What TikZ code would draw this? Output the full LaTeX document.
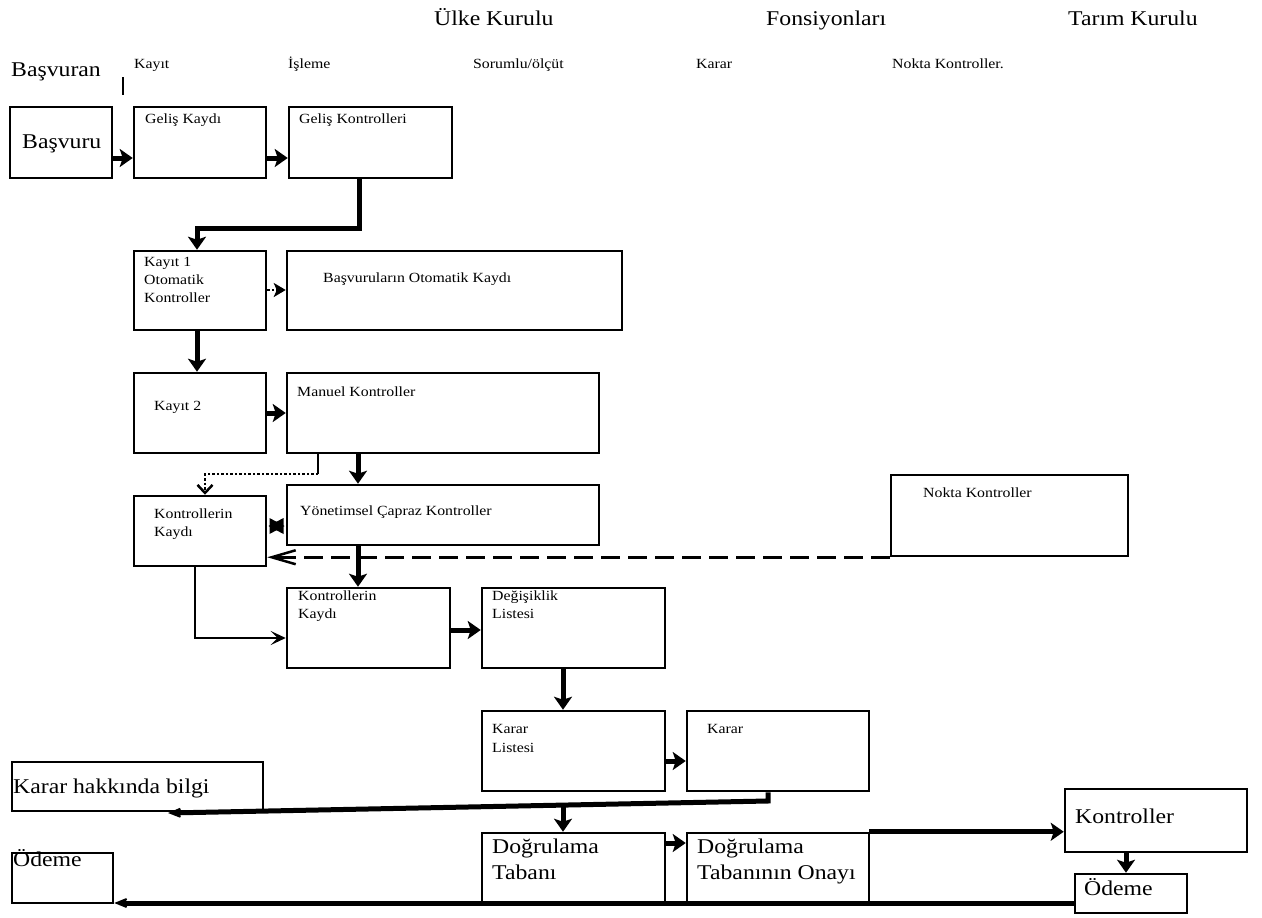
\documentclass[tikz,border=0pt]{standalone}
\usepackage{fontspec}
\setmainfont{Liberation Serif}[FakeStretch=1.13]
\usetikzlibrary{arrows.meta,fit,calc}
\begin{document}
\begin{tikzpicture}[x=1pt,y=-1pt,
  box/.style={draw, line width=2.5pt, inner sep=0pt},
  sm/.style={font=\fontsize{14}{17}\selectfont, anchor=base west, inner sep=0pt},
  bg/.style={font=\fontsize{21}{26}\selectfont, anchor=base west, inner sep=0pt},
  thk/.style={line width=5pt, -{Stealth[length=13pt,width=18pt,inset=3pt]}},
  thkbarb/.style={line width=5pt, -{Stealth[length=22pt,width=18pt,inset=14pt]}},
  thinarr/.style={line width=2pt, -{Stealth[length=15pt,width=14pt,inset=7pt]}},
  dotarr/.style={line width=2.5pt, dash pattern=on 2.5pt off 2pt, -{Stealth[length=12pt,width=14pt,inset=3pt]}},
  dotbarb/.style={line width=2.5pt, dash pattern=on 2.5pt off 2pt, -{Straight Barb[length=8pt,width=15pt,line width=2.5pt]}},
  dasharr/.style={line width=2.5pt, dash pattern=on 19pt off 8pt, -{Straight Barb[length=24pt,width=14pt,line width=2.5pt]}}
]
\fill[white] (0,0) rectangle (1262,918);
\useasboundingbox (0,0) rectangle (1262,918);

% headers
\node[bg] (h1) at (434,25) {Ülke Kurulu};
\node[bg] (h2) at (766,25) {Fonsiyonları};
\node[bg] (h3) at (1068,25) {Tarım Kurulu};
\node[bg] (h4) at (11,76) {Başvuran};
\node[sm] (c1) at (134,68) {Kayıt};
\node[sm] (c2) at (288,68) {İşleme};
\node[sm] (c3) at (473,68) {Sorumlu/ölçüt};
\node[sm] (c4) at (696,68) {Karar};
\node[sm] (c5) at (892,68) {Nokta Kontroller.};
\coordinate (tk1) at (123,77);
\coordinate (tk2) at (123,95);
\draw[line width=2.5pt] (tk1) -- (tk2);

% boxes
\node[box, fit={(10,107)(112,178)}] (basvuru) {};
\node[bg] (basvuru-t) at (22,148) {Başvuru};
\node[box, fit={(134,107)(266,178)}] (gk) {};
\node[sm] (gk-t) at (145,123) {Geliş Kaydı};
\node[box, fit={(289,107)(452,178)}] (gkon) {};
\node[sm] (gkon-t) at (299,123) {Geliş Kontrolleri};

\node[box, fit={(134,251)(266,330)}] (k1) {};
\node[sm] (k1-a) at (144,266) {Kayıt 1};
\node[sm] (k1-b) at (144,284) {Otomatik};
\node[sm] (k1-c) at (144,302) {Kontroller};
\node[box, fit={(287,251)(622,330)}] (bok) {};
\node[sm] (bok-t) at (323,282) {Başvuruların Otomatik Kaydı};

\node[box, fit={(134,373)(266,453)}] (k2) {};
\node[sm] (k2-t) at (154,410) {Kayıt 2};
\node[box, fit={(287,373)(599,453)}] (man) {};
\node[sm] (man-t) at (297,396) {Manuel Kontroller};

\node[box, fit={(134,496)(266,566)}] (kk1) {};
\node[sm] (kk1-a) at (154,518) {Kontrollerin};
\node[sm] (kk1-b) at (154,536) {Kaydı};
\node[box, fit={(287,485)(599,545)}] (yon) {};
\node[sm] (yon-t) at (300,515) {Yönetimsel Çapraz Kontroller};
\node[box, fit={(891,475)(1128,556)}] (nokta) {};
\node[sm] (nokta-t) at (923,497) {Nokta Kontroller};

\node[box, fit={(287,588)(450,668)}] (kk2) {};
\node[sm] (kk2-a) at (298,600) {Kontrollerin};
\node[sm] (kk2-b) at (298,618) {Kaydı};
\node[box, fit={(482,588)(665,668)}] (deg) {};
\node[sm] (deg-a) at (492,600) {Değişiklik};
\node[sm] (deg-b) at (492,618) {Listesi};

\node[box, fit={(482,711)(665,791)}] (kl) {};
\node[sm] (kl-a) at (492,733) {Karar};
\node[sm] (kl-b) at (492,752) {Listesi};
\node[box, fit={(687,711)(869,791)}] (karar) {};
\node[sm] (karar-t) at (707,733) {Karar};

\node[box, fit={(12,762)(263,811)}] (khb) {};
\node[bg] (khb-t) at (13,793) {Karar hakkında bilgi};

\node[box, fit={(482,833)(665,902)}] (dt) {};
\node[bg] (dt-a) at (492,853) {Doğrulama};
\node[bg] (dt-b) at (492,879) {Tabanı};
\node[box, fit={(687,833)(869,902)}] (dto) {};
\node[bg] (dto-a) at (697,853) {Doğrulama};
\node[bg] (dto-b) at (697,879) {Tabanının Onayı};

\node[box, fit={(1065,789)(1247,852)}] (kon) {};
\node[bg] (kon-t) at (1075,823) {Kontroller};
\node[box, fit={(1075,874)(1187,913)}] (odr) {};
\node[bg] (odr-t) at (1084,895) {Ödeme};
\node[box, fit={(12,853)(113,903)}] (odl) {};
\node[bg] (odl-t) at (13,866) {Ödeme};

% connectors
\draw[thk] (basvuru.east |- 0,158) -- (gk.west |- 0,158);
\draw[thk] (gk.east |- 0,158) -- (gkon.west |- 0,158);
\draw[thk] (gkon.south -| 359,0) -- (359,228) -- (197,228) -- (k1.north -| 197,0);
\draw[dotarr] (k1.east |- 0,290) -- (bok.west |- 0,290);
\draw[thk] (k1.south -| 197,0) -- (k2.north -| 197,0);
\draw[thk] (k2.east |- 0,413) -- (man.west |- 0,413);
\draw[thk] (man.south -| 358,0) -- (yon.north -| 358,0);
\draw[line width=2.5pt] (man.south -| 318,0) -- (318,474);
\draw[dotbarb] (318,474) -- (205,474) -- (kk1.north -| 205,0);
% star between yon and kk1
\coordinate (st) at ($(kk1.east |- 0,526)!0.5!(yon.west |- 0,526)$);
\fill ($(st)+(-8,0)$) -- ($(st)+(7,-8)$) -- ($(st)+(7,8)$) -- cycle;
\fill ($(st)+(8,0)$) -- ($(st)+(-7,-8)$) -- ($(st)+(-7,8)$) -- cycle;
\draw[dasharr] (nokta.south west) -- (kk1.east |- nokta.south west);
\draw[thk] (yon.south -| 358,0) -- (kk2.north -| 358,0);
\draw[thinarr] (kk1.south -| 195,0) -- (195,638) -- (kk2.west |- 0,638);
\draw[thk] (kk2.east |- 0,630) -- (deg.west |- 0,630);
\draw[thk] (deg.south -| 563,0) -- (kl.north -| 563,0);
\draw[thk] (kl.east |- 0,761) -- (karar.west |- 0,761);
\coordinate (kend) at (168,813);
\draw[thkbarb] (karar.south -| 768,0) -- (768,801) -- (kend);
\coordinate (dsplit) at (563,803);
\draw[thk] (dsplit) -- (dt.north -| dsplit);
\draw[thk] (dt.east |- 0,843) -- (dto.west |- 0,843);
\draw[thk, shorten <=-1.2pt] (dto.north east) -- (kon.west |- dto.north east);
\draw[thk] (kon.south -| 1126,0) -- (odr.north -| 1126,0);
\draw[thkbarb] (odr.west |- 0,903) -- (odl.east |- 0,903);
\end{tikzpicture}
\end{document}
